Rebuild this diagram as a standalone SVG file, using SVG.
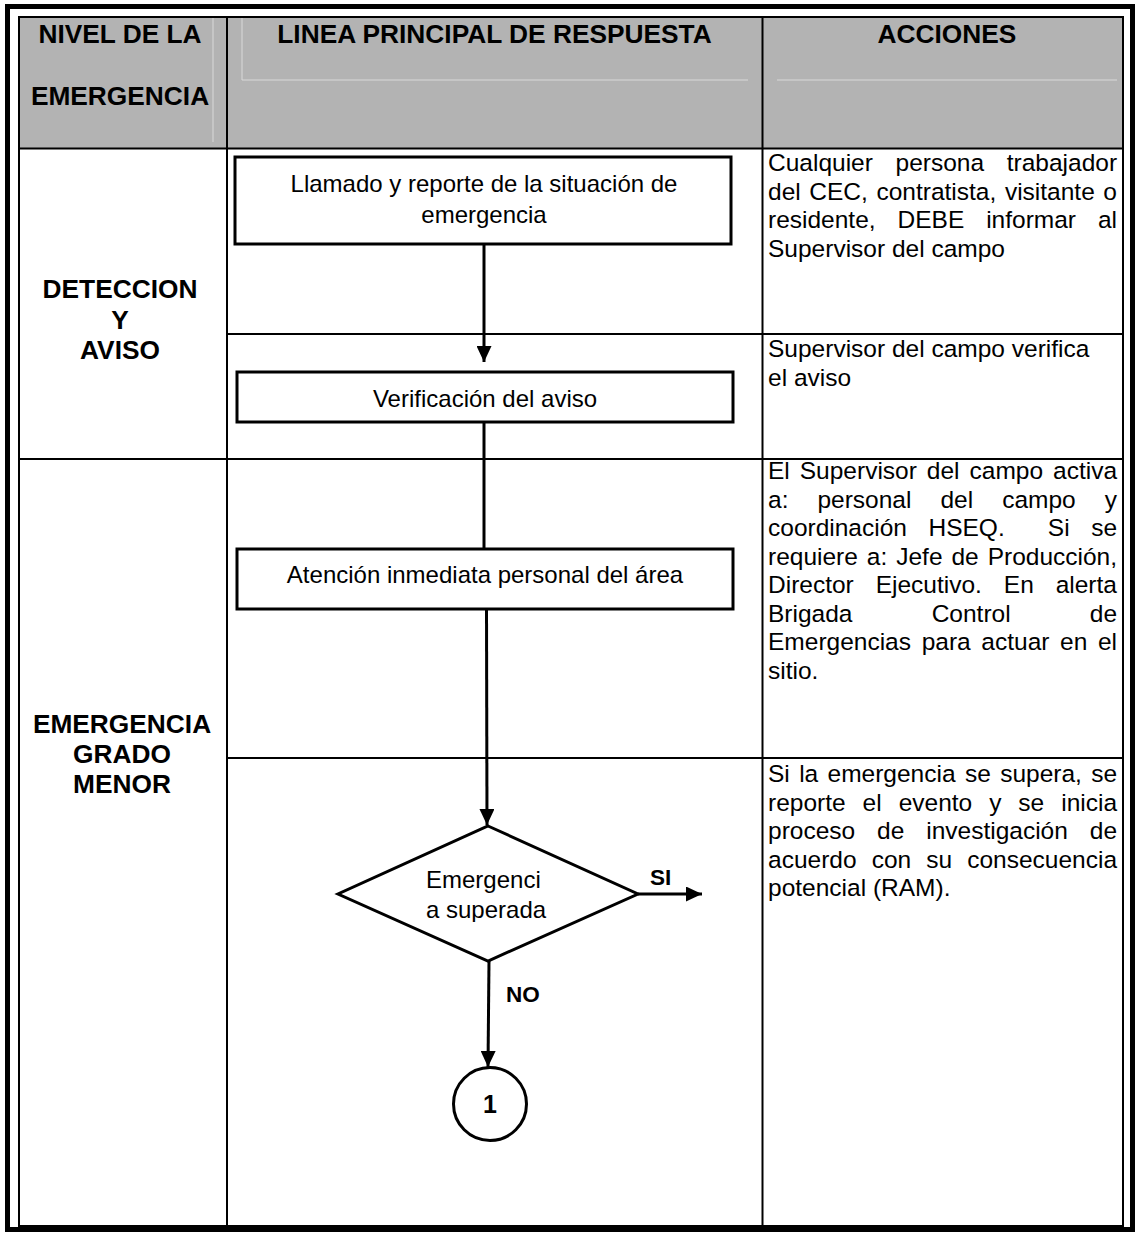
<svg xmlns="http://www.w3.org/2000/svg" width="1135" height="1234" viewBox="0 0 1135 1234">
<defs>
<style>
.grid{stroke:#000;stroke-width:2;fill:none}
.faint{stroke:#d9d9d9;stroke-width:1;fill:none}
.bold{font-family:"Liberation Sans",Arial,sans-serif;font-weight:bold;font-size:26.3px;text-anchor:middle;fill:#000}
.box{fill:#fff;stroke:#000;stroke-width:3}
.btxt{font-family:"Liberation Sans",Arial,sans-serif;font-size:24px;text-anchor:middle;fill:#000}
.dtxt{font-family:"Liberation Sans",Arial,sans-serif;font-size:24px;fill:#000}
.act{font-family:"Liberation Sans",Arial,sans-serif;font-size:24.5px;fill:#000}
.conn{stroke:#000;stroke-width:3;fill:none}
.lbl{font-family:"Liberation Sans",Arial,sans-serif;font-weight:bold;font-size:22.5px;fill:#000}
</style>
<marker id="arr" markerUnits="userSpaceOnUse" viewBox="0 0 16 15" markerWidth="16" markerHeight="15" refX="16" refY="7.5" orient="auto">
<path d="M0,0 L16,7.5 L0,15 z" fill="#000"/>
</marker>
<clipPath id="dclip"><rect x="330" y="860" width="320" height="62"/></clipPath>
</defs>

<rect x="0" y="0" width="1135" height="1234" fill="#fff"/>

<g id="frame">
<rect x="7.5" y="6.5" width="1125" height="1223" fill="none" stroke="#000" stroke-width="5"/>
</g>

<g id="table">
<rect x="19" y="17" width="1104" height="131.5" fill="#b3b3b3"/>
<line class="faint" x1="213" y1="18" x2="213" y2="142"/>
<line class="faint" x1="242" y1="18" x2="242" y2="80"/>
<line class="faint" x1="242" y1="80" x2="748" y2="80"/>
<line class="faint" x1="777" y1="80" x2="1117" y2="80"/>
<rect class="grid" x="19" y="17" width="1104" height="1209"/>
<line class="grid" x1="227" y1="17" x2="227" y2="1226"/>
<line class="grid" x1="762.5" y1="17" x2="762.5" y2="1226"/>
<line class="grid" x1="19" y1="148.5" x2="1123" y2="148.5"/>
<line class="grid" x1="19" y1="459" x2="1123" y2="459"/>
<line class="grid" x1="227" y1="334" x2="1123" y2="334"/>
<line class="grid" x1="227" y1="758" x2="1123" y2="758"/>
</g>

<g id="header">
<text class="bold" x="120" y="43">NIVEL DE LA</text>
<text class="bold" x="120" y="105">EMERGENCIA</text>
<text class="bold" x="494.5" y="43">LINEA PRINCIPAL DE RESPUESTA</text>
<text class="bold" x="947" y="43">ACCIONES</text>
</g>

<g id="level-deteccion">
<text class="bold" x="120" y="298">DETECCION</text>
<text class="bold" x="120" y="329">Y</text>
<text class="bold" x="120" y="359">AVISO</text>
</g>

<g id="level-menor">
<text class="bold" x="122" y="733">EMERGENCIA</text>
<text class="bold" x="122" y="763">GRADO</text>
<text class="bold" x="122" y="793">MENOR</text>
</g>

<g id="connectors">
<line class="conn" x1="484" y1="244" x2="484" y2="362" marker-end="url(#arr)"/>
<line class="conn" x1="484" y1="422" x2="484" y2="549"/>
<line class="conn" x1="486.5" y1="609" x2="487" y2="825" marker-end="url(#arr)"/>
<line class="conn" x1="638" y1="894" x2="702" y2="894" marker-end="url(#arr)"/>
<line class="conn" x1="489" y1="961" x2="488" y2="1067" marker-end="url(#arr)"/>
<text class="lbl" x="650" y="885">SI</text>
<text class="lbl" x="506" y="1002">NO</text>
</g>

<g id="box-llamado">
<rect class="box" x="235" y="157" width="496" height="87"/>
<text class="btxt" x="484" y="192">Llamado y reporte de la situación de</text>
<text class="btxt" x="484" y="223">emergencia</text>
</g>

<g id="box-verificacion">
<rect class="box" x="237" y="372" width="496" height="50"/>
<text class="btxt" x="485" y="407">Verificación del aviso</text>
</g>

<g id="box-atencion">
<rect class="box" x="237" y="549" width="496" height="60"/>
<text class="btxt" x="485" y="583">Atención inmediata personal del área</text>
</g>

<g id="decision">
<polygon class="box" points="488,826 638,894 488,961 338,894"/>
<g clip-path="url(#dclip)">
<text class="dtxt" x="426" y="888">Emergenci</text>
<text class="dtxt" x="426" y="918">a superada</text>
</g>
</g>

<g id="connector-1">
<circle cx="490" cy="1104" r="36.5" fill="#fff" stroke="#000" stroke-width="3"/>
<text class="bold" x="490" y="1113" style="font-size:25px">1</text>
</g>

<g id="action-1">
<text class="act" x="768" y="171" word-spacing="15.86">Cualquier persona trabajador</text>
<text class="act" x="768" y="199.5" word-spacing="1.8">del CEC, contratista, visitante o</text>
<text class="act" x="768" y="228" word-spacing="15.1">residente, DEBE informar al</text>
<text class="act" x="768" y="256.5">Supervisor del campo</text>
</g>

<g id="action-2">
<text class="act" x="768" y="357">Supervisor del campo verifica</text>
<text class="act" x="768" y="385.5">el aviso</text>
</g>

<g id="action-3">
<text class="act" x="768" y="479" word-spacing="3.17">El Supervisor del campo activa</text>
<text class="act" x="768" y="507.5" word-spacing="22.2">a: personal del campo y</text>
<text class="act" x="768" y="536" word-spacing="14.75" xml:space="preserve">coordinación HSEQ.  Si se</text>
<text class="act" x="768" y="564.5" word-spacing="2.13">requiere a: Jefe de Producción,</text>
<text class="act" x="768" y="593" word-spacing="15.1">Director Ejecutivo. En alerta</text>
<text class="act" x="768" y="621.5" word-spacing="72.4">Brigada Control de</text>
<text class="act" x="768" y="650" word-spacing="3.85">Emergencias para actuar en el</text>
<text class="act" x="768" y="678.5">sitio.</text>
</g>

<g id="action-4">
<text class="act" x="768" y="782" word-spacing="2.54">Si la emergencia se supera, se</text>
<text class="act" x="768" y="810.5" word-spacing="10.16">reporte el evento y se inicia</text>
<text class="act" x="768" y="839" word-spacing="15.1">proceso de investigación de</text>
<text class="act" x="768" y="867.5" word-spacing="8.3">acuerdo con su consecuencia</text>
<text class="act" x="768" y="896">potencial (RAM).</text>
</g>
</svg>
